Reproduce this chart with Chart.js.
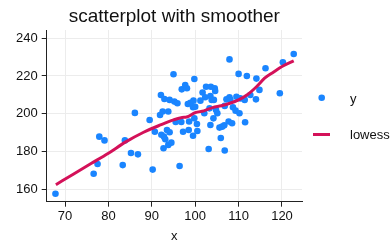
<!DOCTYPE html>
<html>
<head>
<meta charset="utf-8">
<script src="https://cdn.jsdelivr.net/npm/chart.js@4/dist/chart.umd.min.js"></script>
<style>
html,body{margin:0;padding:0;background:#fff;}
#wrap{width:390px;height:244px;position:relative;}
</style>
</head>
<body>
<div id="wrap"><canvas id="c" width="390" height="244"></canvas></div>
<script>
// ---- data ----
const titleText = "scatterplot with smoother";
const xTitle = "x";
const seriesNames = ["y", "lowess"];
const xTicks = [70, 80, 90, 100, 110, 120];
const yTicks = [160, 180, 200, 220, 240];
const xVals = [67.8,76.6,77.5,77.9,79.1,83.3,83.8,85.2,86.1,86.8,89.5,90.2,90.7,92.1,91.9,92.5,92.2,92.7,92.9,92.8,93.1,93.5,93.8,93.8,94.1,94.1,94.5,95.0,95.2,95.5,95.9,96.4,96.8,96.9,97.2,97.7,98.1,98.3,98.5,98.6,98.9,99.5,99.6,99.8,99.5,100.0,99.8,100.4,100.5,101.2,101.7,102.1,102.3,102.5,103.1,103.3,103.5,103.5,103.6,103.8,104.2,104.3,104.5,104.6,104.8,105.1,105.6,105.9,106.2,106.7,106.8,106.8,107.2,107.7,107.9,107.9,108.1,108.5,108.7,109.5,109.3,110.0,110.2,110.4,111.4,111.5,111.9,112.7,114.1,114.0,114.8,116.2,119.5,120.2,122.7];
const yVals = [157.5,168.1,173.3,187.8,185.8,172.7,185.8,179.1,200.4,178.4,196.6,170.3,190.4,209.9,199.3,201.1,188.8,181.6,207.8,187.8,186.4,191.3,201.1,183.4,190.1,207.3,184.6,220.9,206.4,195.6,205.5,172.2,195.6,212.9,190.4,215.2,213.5,205.1,191.3,195.8,205.8,188.3,206.9,218.4,203.4,203.7,197.5,194.5,190.8,206.9,211.2,200.2,208.7,214.3,181.2,202.8,209.4,194.0,214.3,207.3,197.5,207.3,213.5,212.0,202.0,200.2,192.6,187.1,193.1,193.8,180.4,204.1,207.6,195.8,228.8,208.7,207.3,194.9,203.4,209.0,201.6,221.1,200.2,208.1,207.3,195.4,220.0,209.9,218.6,207.6,212.6,224.1,210.8,227.3,231.7];
const lowessX = [67.9,72,76,80,84,88,92,95,97,98,100,102,104,106,108,110,112,114,116,118,120,122.7];
const lowessY = [162.3,168,173.5,179,185,190,194,196.7,198,198.2,200.5,201.5,203.2,204.2,205.5,207.3,210,214,218.8,222,225,228];

const BLUE = "#1a85ff";
const RED = "#d41159";
const FONT = "'Liberation Sans', Arial, Helvetica, sans-serif";

const scatterPts = xVals.map((x, i) => ({x: x, y: yVals[i]}));
const lowessPts = lowessX.map((x, i) => ({x: x, y: lowessY[i]}));

const overlay = {
  id: 'overlay',
  afterDraw(chart) {
    const ctx = chart.ctx;
    const ca = chart.chartArea;
    ctx.save();
    // title
    ctx.fillStyle = "#111";
    ctx.font = "19px " + FONT;
    ctx.textAlign = "center";
    ctx.textBaseline = "middle";
    ctx.fillText(titleText, (ca.left + ca.right) / 2, 17);
    // legend
    ctx.font = "13px " + FONT;
    ctx.textAlign = "left";
    ctx.fillStyle = BLUE;
    ctx.beginPath();
    ctx.arc(321.7, 97.7, 3.3, 0, Math.PI * 2);
    ctx.fill();
    ctx.fillStyle = "#111";
    ctx.fillText(seriesNames[0], 350, 99);
    ctx.strokeStyle = RED;
    ctx.lineWidth = 3;
    ctx.beginPath();
    ctx.moveTo(313, 134.5);
    ctx.lineTo(330, 134.5);
    ctx.stroke();
    ctx.fillStyle = "#111";
    ctx.fillText(seriesNames[1], 350, 135);
    ctx.restore();
  }
};

new Chart(document.getElementById('c'), {
  type: 'scatter',
  data: {
    datasets: [
      {
        label: seriesNames[0],
        data: scatterPts,
        backgroundColor: BLUE,
        borderWidth: 0,
        pointRadius: 3.3,
        order: 2
      },
      {
        type: 'line',
        label: seriesNames[1],
        data: lowessPts,
        borderColor: RED,
        borderWidth: 3,
        pointRadius: 0,
        fill: false,
        cubicInterpolationMode: 'monotone',
        order: 1
      }
    ]
  },
  options: {
    responsive: false,
    animation: false,
    devicePixelRatio: 1,
    layout: {padding: {top: 30, right: 88, left: 0, bottom: 0}},
    plugins: {
      legend: {display: false},
      title: {display: false},
      tooltip: {enabled: false}
    },
    scales: {
      x: {
        type: 'linear',
        min: 65.78,
        max: 124.61,
        afterBuildTicks: (axis) => { axis.ticks = xTicks.map(v => ({value: v})); },
        afterFit: (scale) => { scale.height = 42.3; },
        grid: {
          color: "#ececec",
          lineWidth: 1,
          borderDash: [25, 12.67],
          borderDashOffset: 4.2,
          drawTicks: true,
          tickLength: 5,
          tickColor: "#222",
          tickBorderDash: []
        },
        border: {display: true, color: "#222", width: 1},
        ticks: {color: "#111", font: {family: FONT, size: 13}, padding: 2, maxRotation: 0},
        title: {display: true, text: xTitle, color: "#111", font: {family: FONT, size: 13}, padding: {top: 0, bottom: 0}}
      },
      y: {
        type: 'linear',
        min: 153.26,
        max: 244.4,
        afterBuildTicks: (axis) => { axis.ticks = yTicks.map(v => ({value: v})); },
        afterFit: (scale) => { scale.width = 46.7; },
        grid: {
          color: "#ececec",
          lineWidth: 1,
          borderDash: [29, 14.33],
          borderDashOffset: 39.5,
          drawTicks: true,
          tickLength: 5,
          tickColor: "#222",
          tickBorderDash: []
        },
        border: {display: true, color: "#222", width: 1},
        ticks: {color: "#111", font: {family: FONT, size: 13}, padding: 4}
      }
    }
  },
  plugins: [overlay]
});
</script>
</body>
</html>
